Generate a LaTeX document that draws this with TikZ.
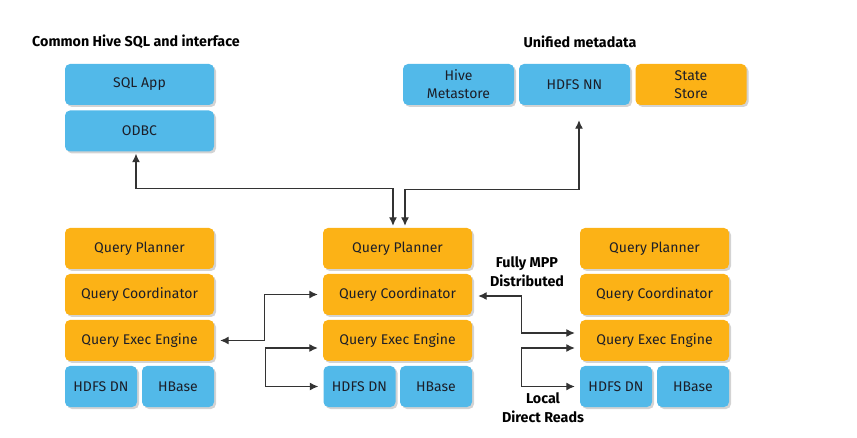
\documentclass[tikz,border=0pt]{standalone}
\usepackage{fontspec}
\setmainfont{Fira Sans}
\usetikzlibrary{arrows.meta,shadows,calc}

\definecolor{hblue}{RGB}{82,185,233}
\definecolor{horange}{RGB}{252,178,22}
\definecolor{hline}{RGB}{51,51,51}
\definecolor{htext}{RGB}{28,30,40}

\tikzset{
  blk/.style={rounded corners=5pt, minimum height=41pt, text=htext,
    font=\fontsize{14}{18}\selectfont, align=center, inner sep=1pt,
    drop shadow={shadow xshift=2pt, shadow yshift=-2pt, opacity=0.35}},
  bluebox/.style={blk, fill=hblue},
  orangebox/.style={blk, fill=horange},
  wide/.style={minimum width=149pt},
  half/.style={minimum width=72pt},
  meta/.style={minimum width=111pt},
  arr/.style={{Latex[length=8.5pt,width=8pt]}-{Latex[length=8.5pt,width=8pt]}, draw=hline, line width=1.2pt},
  ttl/.style={font=\fontsize{14.3}{19}\selectfont\bfseries, text=black, align=center}
}

\begin{document}
\begin{tikzpicture}[x=1pt,y=-1pt]
        \useasboundingbox (0,0) rectangle (857,438);

        % titles
        \node[ttl] (tsql) at (136,42) {Common Hive SQL and interface};
        \node[ttl] (tmeta) at (580,42) {Unified metadata};

        % clients
        \node[bluebox,wide] (app) at (139.5,84.5) {SQL App};
        \node[bluebox,wide] (odbc) at (139.5,131) {ODBC};

        % metadata
        \node[bluebox,meta] (hms) at (458.5,84.5) {Hive\\Metastore};
        \node[bluebox,meta] (nn) at (574.5,84.5) {HDFS NN};
        \node[orangebox,meta] (sst) at (691,84.5) {State\\Store};

        % impala daemons
        \foreach \n/\x/\dl/\hr in {l/139.5/101/178, m/397.5/359.5/436, r/654.5/616/693} {
          \node[orangebox,wide] (\n plan) at (\x,248.5) {Query Planner};
          \node[orangebox,wide] (\n coord) at (\x,294.5) {Query Coordinator};
          \node[orangebox,wide] (\n exec) at (\x,340.5) {Query Exec Engine};
          \node[bluebox,half] (\n dn) at (\dl,386.5) {HDFS DN};
          \node[bluebox,half] (\n hb) at (\hr,386.5) {HBase};
        }

        % to clients and metadata
        \draw[arr] ($(odbc.south)+(-3.5,2)$) |- ($(mplan.north)+(-4.5,-39)$) -- ($(mplan.north)+(-4.5,-2)$);
        \draw[arr] ($(mplan.north)+(7.5,-2)$) |- ($(nn.south)+(4.5,84)$) -- ($(nn.south)+(4.5,15)$);

        % between daemons
        \draw[arr] ($(lexec.east)+(6,0)$) -| ($(mcoord.west)+(-58,0)$) -- ($(mcoord.west)+(-5,0)$);
        \draw[arr] ($(mcoord.east)+(6,1.5)$) -| ($(rexec.west)+(-58,-7.5)$) -- ($(rexec.west)+(-5,-7.5)$);

        % local reads
        \draw[arr] ($(mexec.west)+(-5,7.5)$) -| ($(mdn.west)+(-58,0)$) -- ($(mdn.west)+(-5,0)$);
        \draw[arr] ($(rexec.west)+(-5,7.5)$) -| ($(rdn.west)+(-58,0)$) -- ($(rdn.west)+(-5,0)$);

        % labels
        \node[ttl] (mpp) at (527,272) {Fully MPP\\Distributed};
        \node[ttl] (local) at (543,408) {Local\\Direct Reads};
    \end{tikzpicture}
\end{document}
